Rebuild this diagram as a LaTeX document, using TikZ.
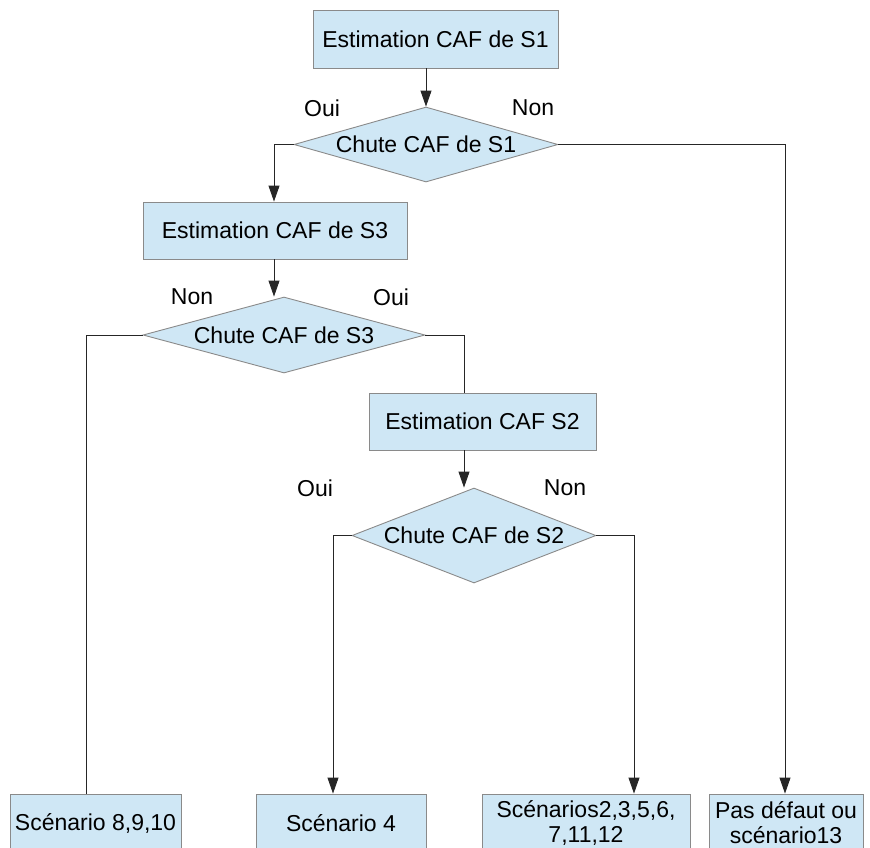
\documentclass[tikz,border=0pt]{standalone}
\usepackage{fontspec}
\setmainfont{Liberation Sans}
\usetikzlibrary{shapes.geometric,arrows.meta}
\definecolor{boxfill}{HTML}{CFE7F5}
\definecolor{boxline}{HTML}{8A8A8A}
\begin{document}
\begin{tikzpicture}[x=1pt,y=-1pt,
  every node/.style={font=\fontsize{23}{25}\selectfont},
  box/.style={rectangle, draw=boxline, fill=boxfill, line width=0.9pt, inner sep=0pt, align=center, minimum height=58pt},
  dec/.style={diamond, draw=boxline, fill=boxfill, line width=0.9pt, inner sep=0pt},
  lbl/.style={inner sep=0pt},
  conn/.style={draw=black!85, line width=0.9pt},
  arr/.style={conn, -{Triangle[length=16pt,width=11pt]}}]
\useasboundingbox (0,0) rectangle (870,847);
\clip (0,0) rectangle (870,847);

% process boxes
\node[box, minimum width=245pt] (e1) at (435.5,39) {Estimation CAF de S1};
\node[box, minimum width=264pt, minimum height=57pt] (e3) at (275,230.5) {Estimation CAF de S3};
\node[box, minimum width=227pt, minimum height=57pt] (e2) at (482.5,421.5) {Estimation CAF S2};

% decisions
\node[dec, minimum width=264pt, minimum height=75pt] (d1) at (426,144.5) {\makebox[0pt]{Chute CAF de S1}};
\node[dec, minimum width=282pt, minimum height=76pt] (d2) at (284,335) {\makebox[0pt]{Chute CAF de S3}};
\node[dec, minimum width=244pt, minimum height=95pt] (d3) at (474,535.5) {\makebox[0pt]{Chute CAF de S2}};

% results
\node[box, minimum width=171pt] (s8) at (95.5,823) {Scénario 8,9,10};
\node[box, minimum width=170pt] (s4) at (341,823) {Scénario 4};
\node[box, minimum width=208pt] (sc) at (586,823) {Scénarios2,3,5,6,\\7,11,12};
\node[box, minimum width=154pt] (pd) at (786,823) {Pas défaut ou\\scénario13};

% labels
\node[lbl] (l1o) at (322,108) {Oui};
\node[lbl] (l1n) at (533,108) {Non};
\node[lbl] (l2n) at (192,297) {Non};
\node[lbl] (l2o) at (391,297) {Oui};
\node[lbl] (l3o) at (315,488) {Oui};
\node[lbl] (l3n) at (565,488) {Non};

% connectors
\draw[arr] (d1.north |- e1.south) -- (d1.north);
\draw[arr] (d1.west) -| ([xshift=-1pt]e3.north);
\draw[arr] (d1.east) -| ([xshift=-1pt]pd.north);
\draw[arr] ([xshift=-1pt]e3.south) -- ([xshift=-1pt]e3.south |- d2.north);
\draw[conn] (d2.west) -| ([xshift=-9.5pt]s8.north);
\draw[conn] (d2.east) -| ([xshift=-18.5pt]e2.north);
\draw[arr] ([xshift=-18.5pt]e2.south) -- ([xshift=-18.5pt]e2.south |- d3.north);
\draw[arr] (d3.west) -| ([xshift=-8pt]s4.north);
\draw[arr] (d3.east) -| ([xshift=48pt]sc.north);
\end{tikzpicture}
\end{document}
